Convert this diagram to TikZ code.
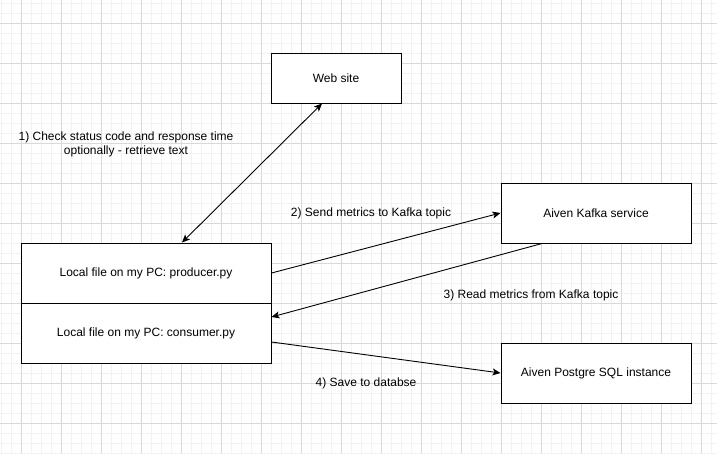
\documentclass[tikz,border=0pt]{standalone}
\usepackage{fontspec}
\setmainfont{Liberation Sans}
\usetikzlibrary{positioning, arrows.meta}
\tikzset{
	x=1pt, y=-1pt, % Un pixel por punto, y hacia abajo
	>={Stealth[length=8pt, width=7pt, inset=2pt]}, % Punta de flecha rellena
	every node/.style={font=\fontsize{12}{14}\selectfont},
	caja/.style={draw, line width=1pt, fill=white, inner sep=0pt}, % Cajas del diagrama
	flecha/.style={->, line width=0.9pt}, % Conexiones
	etiqueta/.style={align=center, inner sep=0pt} % Textos sueltos
}

\begin{document}
\begin{tikzpicture}
	\useasboundingbox (0,0) rectangle (717,453);
	\fill[white] (0,0) rectangle (717,453);
	% Cuadricula de fondo
	\foreach \gx in {1,11,...,711} \draw[line width=1pt, black!5] (\gx,0) -- (\gx,453);
	\foreach \gy in {3,13,...,453} \draw[line width=1pt, black!5] (0,\gy) -- (717,\gy);
	\foreach \gx in {21,61,...,701} \draw[line width=0.8pt, black!15] (\gx,0) -- (\gx,453);
	\foreach \gy in {23,63,...,443} \draw[line width=0.8pt, black!15] (0,\gy) -- (717,\gy);

	\node[caja, minimum width=130pt, minimum height=50pt] (web) at (336,78) {Web site};
	\node[caja, minimum width=250pt, minimum height=60pt] (prod) at (146,273) {Local file on my PC: producer.py};
	\node[caja, minimum width=250pt, minimum height=60pt, below=-1pt of prod] (cons) {Local file on my PC: consumer.py};
	\node[caja, minimum width=190pt, minimum height=60pt] (kafka) at (596,213) {Aiven Kafka service};
	\node[caja, minimum width=190pt, minimum height=60pt] (pg) at (596,373) {Aiven Postgre SQL instance};

	\node[etiqueta] (l1) at (126,144) {1) Check status code and response time\\optionally - retrieve text};
	\node[etiqueta] (l2) at (371,213) {2) Send metrics to Kafka topic};
	\node[etiqueta] (l3) at (531,295) {3) Read metrics from Kafka topic};
	\node[etiqueta] (l4) at (366,383) {4) Save to databse};

	\draw[flecha, <->] ([xshift=-14pt]web.south) -- ([xshift=36pt]prod.north);
	\draw[flecha] (prod.east) -- (kafka.west);
	\draw[flecha] ([xshift=-54pt]kafka.south) -- ([yshift=16pt]cons.east);
	\draw[flecha] ([yshift=-9pt]cons.east) -- (pg.west);
\end{tikzpicture}
\end{document}
